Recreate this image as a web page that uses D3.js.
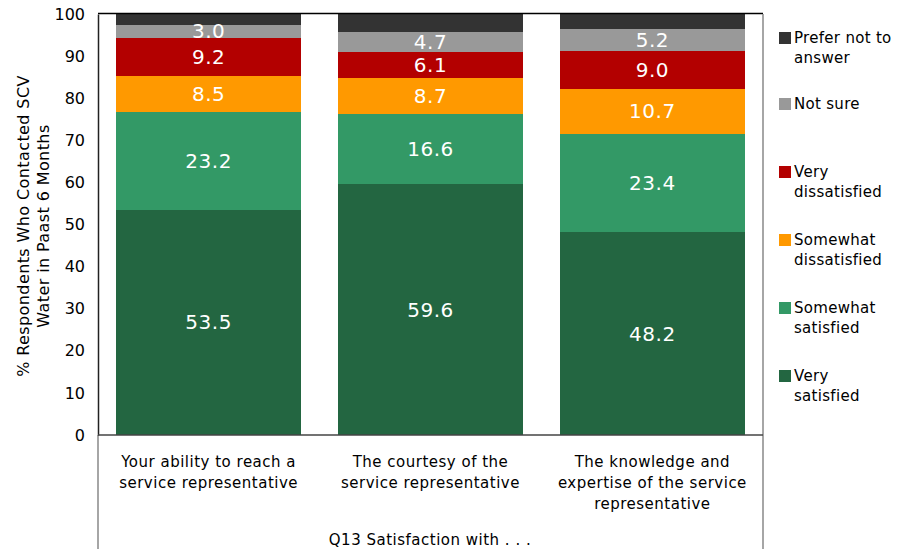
<!DOCTYPE html>
<html>
<head>
<meta charset="utf-8">
<script src="https://cdn.jsdelivr.net/npm/d3@7"></script>
<style>
  body { margin: 0; background: #fff; }
  text { font-family: "DejaVu Sans", sans-serif; }
</style>
</head>
<body>
<div id="chart"></div>
<script>
// categories (x axis)
const categories = [
  ["Your ability to reach a", "service representative"],
  ["The courtesy of the", "service representative"],
  ["The knowledge and", "expertise of the service", "representative"]
];
// stacked series, bottom to top
const seriesNames = ["Very satisfied", "Somewhat satisfied", "Somewhat dissatisfied",
                     "Very dissatisfied", "Not sure", "Prefer not to answer"];
const verySatisfied = [53.5, 59.6, 48.2];
const somewhatSatisfied = [23.2, 16.6, 23.4];
const somewhatDissatisfied = [8.5, 8.7, 10.7];
const veryDissatisfied = [9.2, 6.1, 9.0];
const notSure = [3.0, 4.7, 5.2];
const preferNot = [2.6, 4.3, 3.5];
const seriesColors = ["#236641", "#339966", "#ff9900", "#b30000", "#999999", "#333333"];
const yTicks = [0, 10, 20, 30, 40, 50, 60, 70, 80, 90, 100];

const allSeries = [verySatisfied, somewhatSatisfied, somewhatDissatisfied,
                   veryDissatisfied, notSure, preferNot];

const width = 899, height = 550;
const m = { left: 98, right: 763, top: 14, bottom: 435 };

const svg = d3.select("#chart").append("svg")
  .attr("width", width).attr("height", height);

const x = d3.scaleBand().domain(d3.range(categories.length))
  .range([m.left, m.right]).paddingInner(0.163).paddingOuter(0.08);
const y = d3.scaleLinear().domain([0, 100]).range([m.bottom, m.top]);

// build stack table
const table = categories.map((c, i) => {
  const row = { i };
  seriesNames.forEach((s, k) => row[s] = allSeries[k][i]);
  return row;
});
const stack = d3.stack().keys(seriesNames)(table);

const layers = svg.append("g").attr("shape-rendering", "crispEdges")
  .selectAll("g")
  .data(stack).enter().append("g")
  .attr("fill", (d, k) => seriesColors[k]);

layers.selectAll("rect")
  .data(d => d).enter().append("rect")
  .attr("x", d => x(d.data.i))
  .attr("width", x.bandwidth())
  .attr("y", d => y(Math.min(d[1], 100)))
  .attr("height", d => y(d[0]) - y(Math.min(d[1], 100)));

// value labels (not for "Prefer not to answer")
stack.forEach((layer, k) => {
  if (k === seriesNames.length - 1) return;
  svg.append("g").selectAll("text")
    .data(layer).enter().append("text")
    .attr("x", d => x(d.data.i) + x.bandwidth() / 2)
    .attr("y", d => y((d[0] + d[1]) / 2) + 7)
    .attr("text-anchor", "middle")
    .attr("font-size", "20px")
    .attr("letter-spacing", "0.5px")
    .attr("fill", "#fff")
    .text(d => (d[1] - d[0]).toFixed(1));
});

// frame lines
svg.append("line").attr("x1", m.left).attr("x2", m.right)
  .attr("y1", m.top - 0.5).attr("y2", m.top - 0.5)
  .attr("stroke", "#000").attr("stroke-width", 1.5);
svg.append("line").attr("x1", m.left).attr("x2", m.left)
  .attr("y1", m.bottom).attr("y2", 549)
  .attr("stroke", "#888").attr("stroke-width", 1.5);
svg.append("line").attr("x1", m.right).attr("x2", m.right)
  .attr("y1", m.top).attr("y2", 549)
  .attr("stroke", "#888").attr("stroke-width", 1.5);

// y axis
const yAxis = svg.append("g")
  .attr("transform", `translate(${m.left},0)`)
  .call(d3.axisLeft(y).tickValues(yTicks).tickSize(0).tickPadding(13));
yAxis.select(".domain").attr("stroke", "#222").attr("stroke-width", 1.5);
yAxis.selectAll("text").attr("font-size", "16px").attr("fill", "#000")
  .attr("font-family", "DejaVu Sans");

// x axis line
svg.append("line").attr("x1", m.left).attr("x2", m.right)
  .attr("y1", m.bottom).attr("y2", m.bottom)
  .attr("stroke", "#444").attr("stroke-width", 1.5);

// category labels
categories.forEach((lines, i) => {
  const t = svg.append("text")
    .attr("x", x(i) + x.bandwidth() / 2)
    .attr("y", 467)
    .attr("text-anchor", "middle")
    .attr("font-size", "15px")
    .attr("letter-spacing", "0.5px")
    .attr("fill", "#000");
  lines.forEach((l, j) => {
    t.append("tspan").attr("x", x(i) + x.bandwidth() / 2)
      .attr("dy", j === 0 ? 0 : 21).text(l);
  });
});

// axis titles
svg.append("text")
  .attr("x", 430).attr("y", 545)
  .attr("text-anchor", "middle")
  .attr("font-size", "15px")
  .attr("letter-spacing", "0.5px")
  .text("Q13 Satisfaction with . . .");

const yTitle = svg.append("text")
  .attr("transform", "translate(29,226) rotate(-90)")
  .attr("text-anchor", "middle")
  .attr("font-size", "16px")
  .attr("letter-spacing", "0.4px");
yTitle.append("tspan").attr("x", 0).attr("dy", 0).text("% Respondents Who Contacted SCV");
yTitle.append("tspan").attr("x", 0).attr("dy", 20).text("Water in Paast 6 Months");

// legend, top to bottom
const legendItems = [
  { name: ["Prefer not to", "answer"], k: 5, y: 32 },
  { name: ["Not sure"], k: 4, y: 98 },
  { name: ["Very", "dissatisfied"], k: 3, y: 166 },
  { name: ["Somewhat", "dissatisfied"], k: 2, y: 234 },
  { name: ["Somewhat", "satisfied"], k: 1, y: 302 },
  { name: ["Very", "satisfied"], k: 0, y: 370 }
];
const legend = svg.append("g");
legendItems.forEach(it => {
  legend.append("rect")
    .attr("x", 779).attr("y", it.y)
    .attr("width", 12).attr("height", 12)
    .attr("fill", seriesColors[it.k]);
  const t = legend.append("text")
    .attr("x", 794).attr("y", it.y + 11)
    .attr("font-size", "15px")
    .attr("letter-spacing", "0.3px")
    .attr("fill", "#000");
  it.name.forEach((l, j) => {
    t.append("tspan").attr("x", 794).attr("dy", j === 0 ? 0 : 20).text(l);
  });
});
</script>
</body>
</html>
